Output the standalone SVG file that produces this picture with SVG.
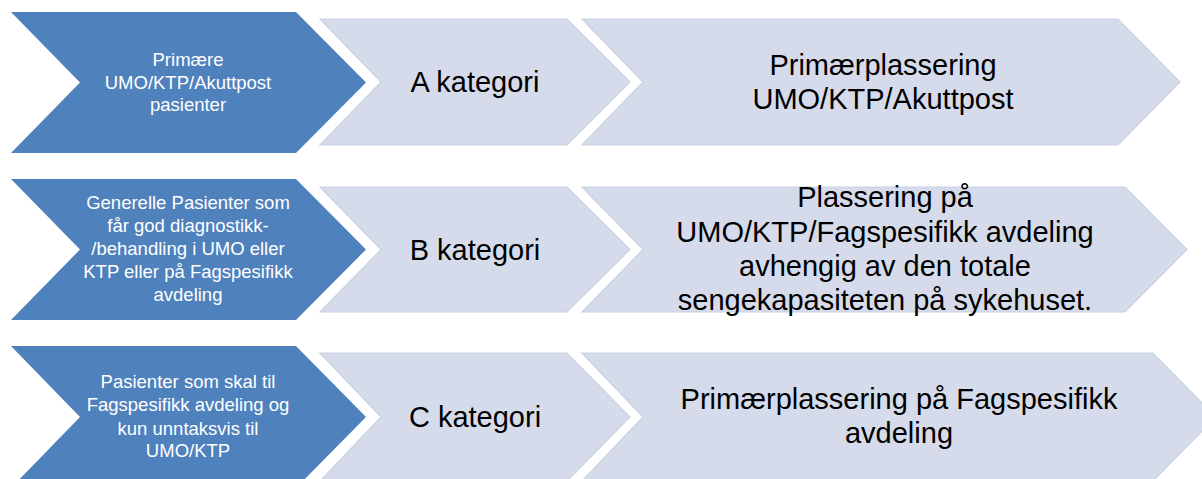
<svg xmlns="http://www.w3.org/2000/svg" width="1202" height="479" viewBox="0 0 1202 479">
<style>
.blue{fill:#4F81BD;stroke:none}
.light{fill:#D5DBEA;stroke:#CAD2E4;stroke-width:1.2}
.tw{font-family:"Liberation Sans",Arial,sans-serif;font-size:18.5px;fill:#FFFFFF;text-anchor:middle}
.tk{font-family:"Liberation Sans",Arial,sans-serif;font-size:29px;fill:#000000;text-anchor:middle}
</style>
<rect width="1202" height="479" fill="#FFFFFF"/>
<g id="connectors"></g>
<g id="row1-source">
<path class="blue" d="M11,12 L296,12 L366,82.5 L296,153 L11,153 L80,82.5 Z"/>
<text class="tw" x="188" y="66">Primære</text>
<text class="tw" x="188" y="89">UMO/KTP/Akuttpost</text>
<text class="tw" x="188" y="111">pasienter</text>
</g>
<g id="row1-category">
<path class="light" d="M320,19 L567,19 L630,82 L567,145 L320,145 L381,82 Z"/>
<text class="tk" x="475" y="92">A kategori</text>
</g>
<g id="row1-placement">
<path class="light" d="M582,19 L1118,19 L1180,82 L1118,145 L582,145 L643,82 Z"/>
<text class="tk" x="883" y="75">Primærplassering</text>
<text class="tk" x="883" y="109">UMO/KTP/Akuttpost</text>
</g>
<g id="row2-source">
<path class="blue" d="M11,179 L296,179 L366,249.5 L296,320 L11,320 L80,249.5 Z"/>
<text class="tw" x="188" y="209">Generelle Pasienter som</text>
<text class="tw" x="188" y="232">får god diagnostikk-</text>
<text class="tw" x="188" y="255">/behandling i UMO eller</text>
<text class="tw" x="188" y="278">KTP eller på Fagspesifikk</text>
<text class="tw" x="188" y="301">avdeling</text>
</g>
<g id="row2-category">
<path class="light" d="M320,187 L567,187 L630,249.5 L567,312 L320,312 L381,249.5 Z"/>
<text class="tk" x="475" y="260">B kategori</text>
</g>
<g id="row2-placement">
<path class="light" d="M582,187 L1125,187 L1187,249.5 L1125,312 L582,312 L643,249.5 Z"/>
<text class="tk" x="885" y="207">Plassering på</text>
<text class="tk" x="885" y="242">UMO/KTP/Fagspesifikk avdeling</text>
<text class="tk" x="885" y="276">avhengig av den totale</text>
<text class="tk" x="885" y="310">sengekapasiteten på sykehuset.</text>
</g>
<g id="row3-source">
<path class="blue" d="M11,346 L296,346 L366,417 L296,488 L11,488 L80,417 Z"/>
<text class="tw" x="188" y="388">Pasienter som skal til</text>
<text class="tw" x="188" y="411">Fagspesifikk avdeling og</text>
<text class="tw" x="188" y="435">kun unntaksvis til</text>
<text class="tw" x="188" y="457">UMO/KTP</text>
</g>
<g id="row3-category">
<path class="light" d="M320,353 L567,353 L630,417 L567,481 L320,481 L381,417 Z"/>
<text class="tk" x="475" y="427">C kategori</text>
</g>
<g id="row3-placement">
<path class="light" d="M582,353 L1153,353 L1216,417 L1153,481 L582,481 L643,417 Z"/>
<text class="tk" x="899" y="409">Primærplassering på Fagspesifikk</text>
<text class="tk" x="899" y="443">avdeling</text>
</g>
</svg>
